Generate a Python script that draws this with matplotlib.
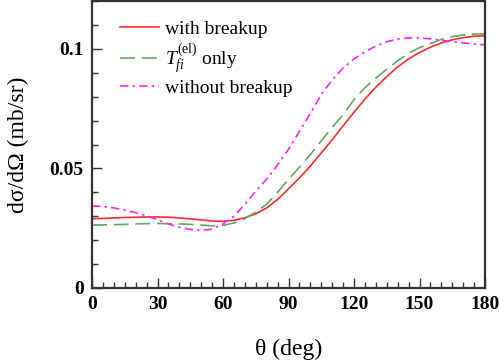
import matplotlib
matplotlib.use("Agg")
import matplotlib.pyplot as plt
from matplotlib.ticker import MultipleLocator

theta = list(range(0, 181, 5))
with_breakup = [0.0290, 0.0291, 0.0293, 0.0295, 0.0296, 0.0297, 0.0297, 0.0296, 0.0293,
                0.0289, 0.0285, 0.0280, 0.0279, 0.0283, 0.0294, 0.0310, 0.0335, 0.0370,
                0.0415, 0.0460, 0.0510, 0.0565, 0.0620, 0.0678, 0.0735, 0.0790, 0.0840,
                0.0884, 0.0925, 0.0958, 0.0985, 0.1007, 0.1025, 0.1038, 0.1047, 0.1053, 0.1055]
tfi_only = [0.0263, 0.0264, 0.0265, 0.0266, 0.0268, 0.0269, 0.0270, 0.0269, 0.0268,
            0.0266, 0.0263, 0.0260, 0.0262, 0.0272, 0.0290, 0.0318, 0.0350, 0.0400,
            0.0455, 0.0505, 0.0558, 0.0615, 0.0672, 0.0725, 0.0788, 0.0838, 0.0878,
            0.0915, 0.0950, 0.0982, 0.1005, 0.1022, 0.1040, 0.1051, 0.1058, 0.1062, 0.1063]
without_breakup = [0.0343, 0.0341, 0.0335, 0.0326, 0.0315, 0.0302, 0.0285, 0.0268, 0.0254,
                   0.0245, 0.0241, 0.0246, 0.0268, 0.0300, 0.0350, 0.0405, 0.0455, 0.0515,
                   0.0580, 0.0655, 0.0730, 0.0810, 0.0870, 0.0920, 0.0958, 0.0988, 0.1012,
                   0.1030, 0.1041, 0.1046, 0.1046, 0.1042, 0.1036, 0.1030, 0.1025, 0.1020, 0.1017]
x_ticks = [0, 30, 60, 90, 120, 150, 180]
y_ticks = [0, 0.05, 0.1]
y_tick_labels = ["0", "0.05", "0.1"]

plt.rcParams['font.family'] = ['Liberation Serif', 'DejaVu Serif']
plt.rcParams['mathtext.fontset'] = 'custom'
plt.rcParams['mathtext.rm'] = 'Liberation Serif'
plt.rcParams['mathtext.it'] = 'Liberation Serif:italic'

fig = plt.figure(figsize=(4.99, 3.6), dpi=100)
ax = fig.add_axes([0.1844, 0.2, 0.7876, 0.797])

ax.plot(theta, with_breakup, color='#ff2a2a', lw=1.2, label='with breakup')
ax.plot(theta, tfi_only, color='#5fa85f', lw=1.2, dashes=(9, 4), label=r'$T_{fi}^{\rm (el)}$ only')
ax.plot(theta, without_breakup, color='#ff22ff', lw=1.2, dashes=(5, 2.5, 1.5, 2.5), label='without breakup')

ax.set_xlim(0, 180)
ax.set_ylim(0, 0.12)
ax.set_xticks(x_ticks)
ax.set_yticks(y_ticks)
ax.set_yticklabels(y_tick_labels)
ax.xaxis.set_minor_locator(MultipleLocator(5))
ax.yaxis.set_minor_locator(MultipleLocator(0.01))
ax.tick_params(which='both', direction='in', top=False, right=False, width=1.0, color='#333333')
ax.tick_params(which='major', length=7, labelsize=14, pad=6)
ax.tick_params(which='minor', length=4)
for lab in ax.get_xticklabels() + ax.get_yticklabels():
    lab.set_fontweight('bold')
for sp in ax.spines.values():
    sp.set_linewidth(1.6)
    sp.set_color('#333333')

ax.set_xlabel('θ (deg)', fontsize=17, labelpad=18)
ax.set_ylabel('dσ/dΩ (mb/sr)', fontsize=17, labelpad=14.5)

ax.legend(loc='upper left', bbox_to_anchor=(0.027, 0.995), frameon=False, fontsize=14,
          handlelength=2.0, handletextpad=0.3, labelspacing=0.2)

fig.savefig('out.png', dpi=100)
